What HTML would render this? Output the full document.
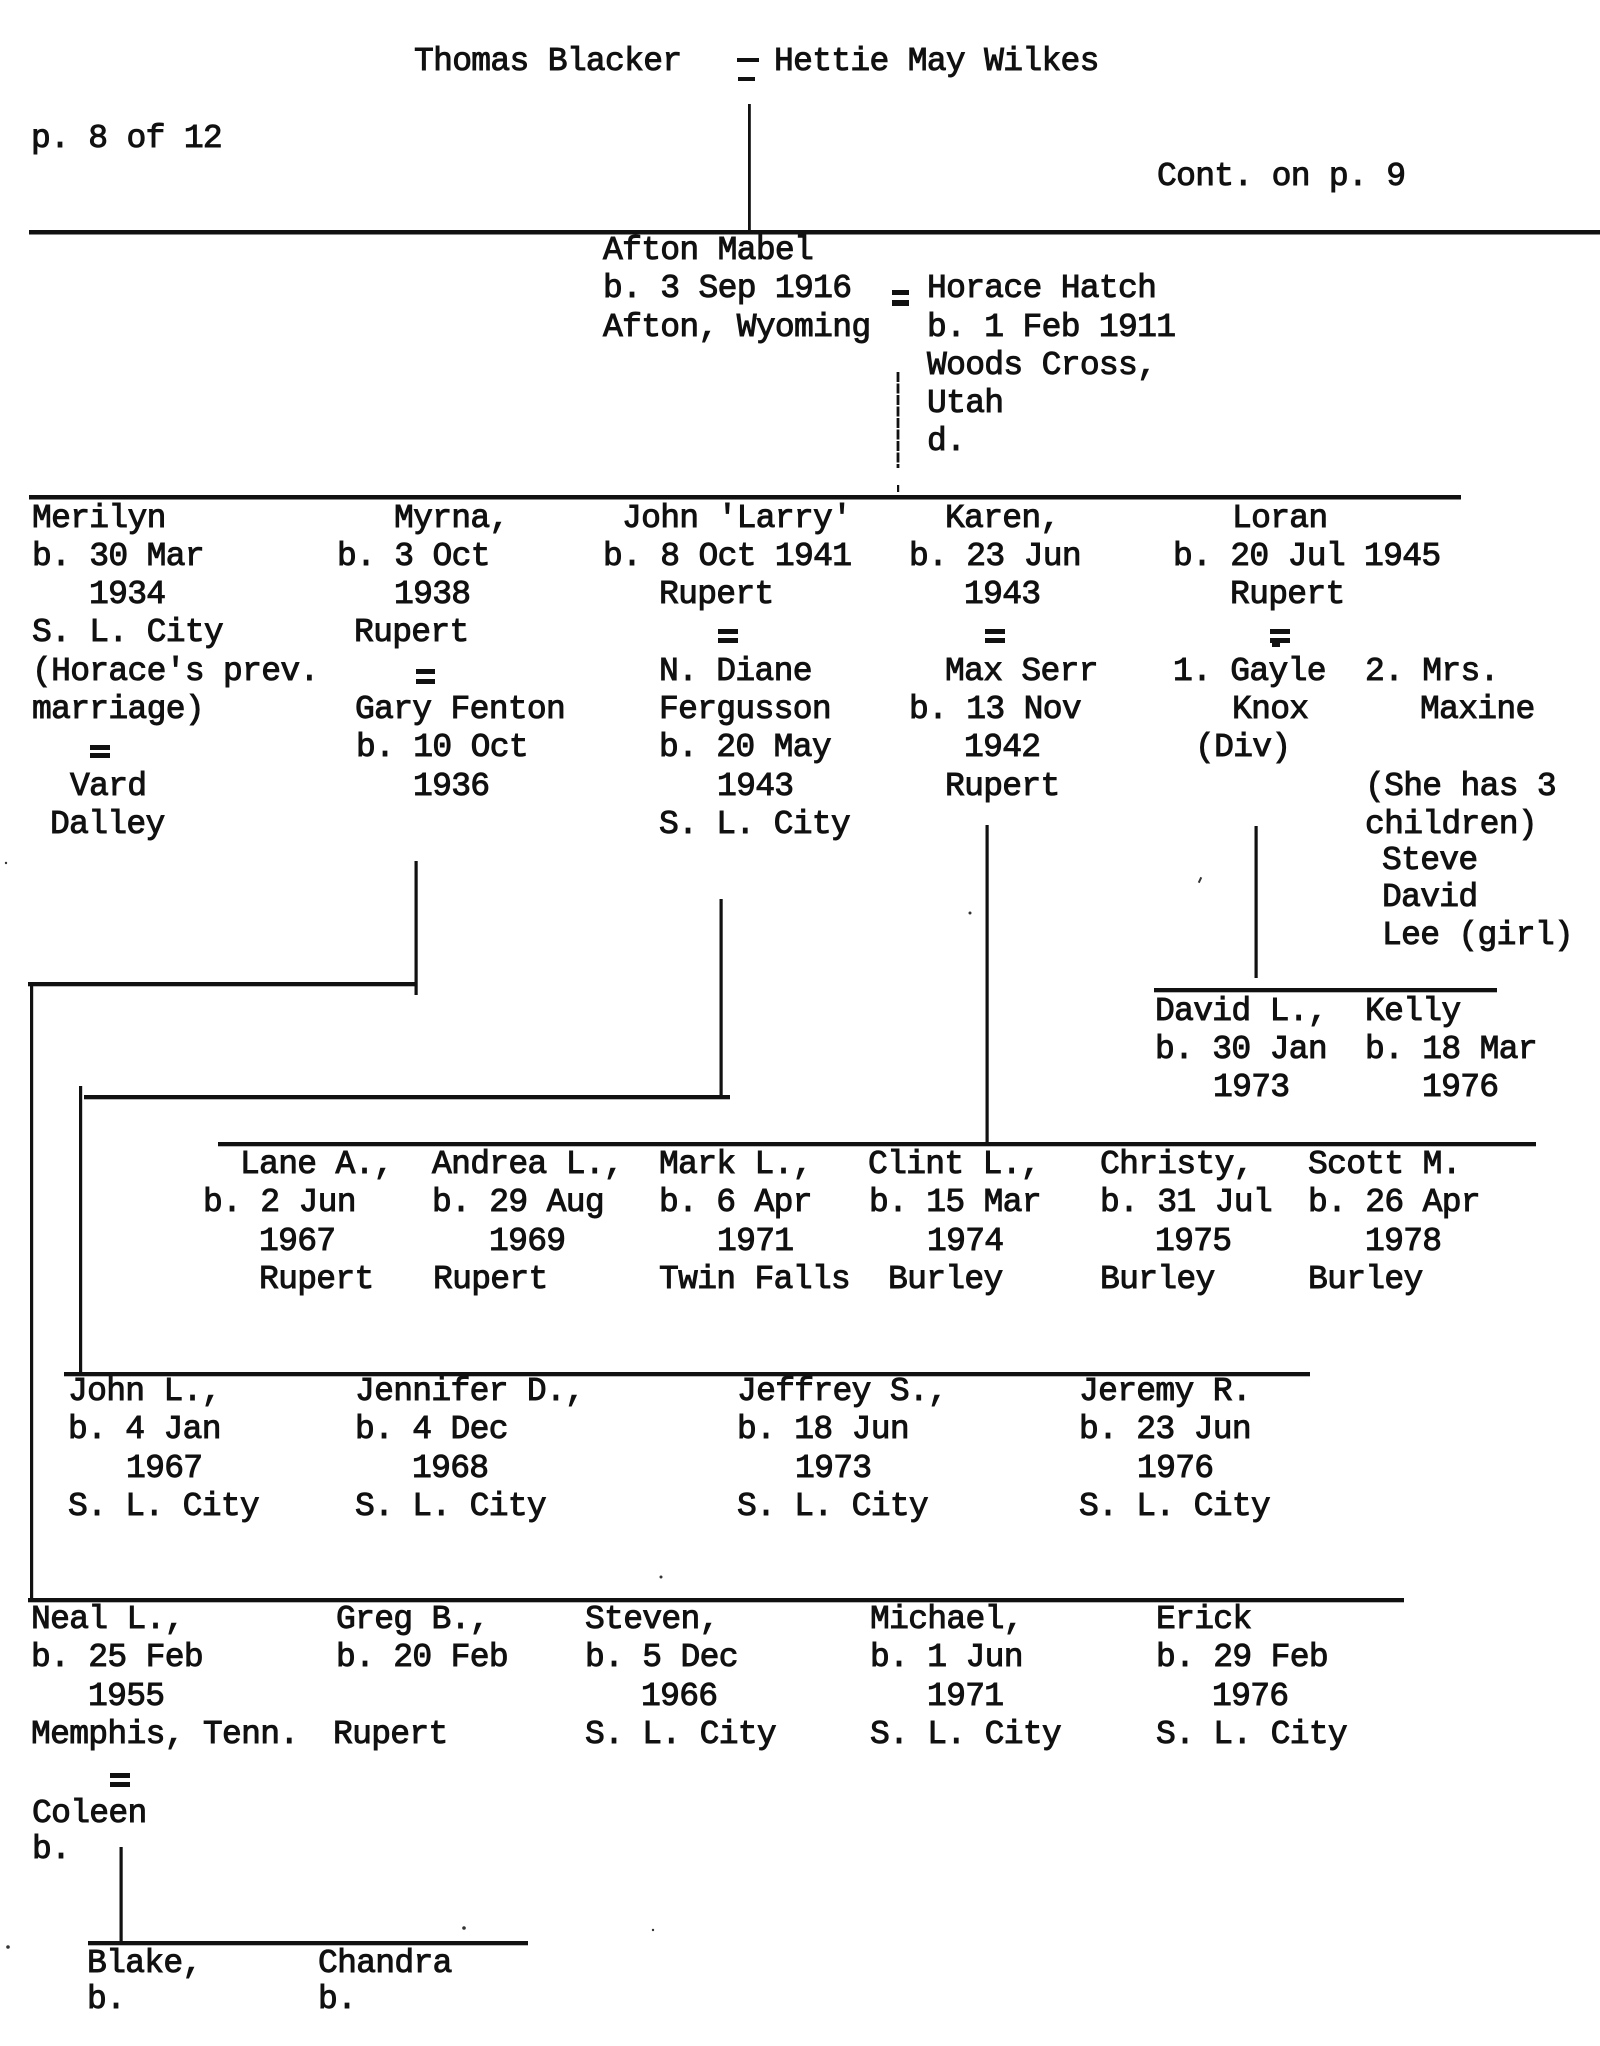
<!DOCTYPE html>
<html>
<head>
<meta charset="utf-8">
<style>
html,body{margin:0;padding:0;background:#fff;}
body{width:1600px;height:2046px;overflow:hidden;}
svg{display:block;}
text{font-family:"Liberation Mono","DejaVu Sans Mono",monospace;font-size:33px;letter-spacing:-0.7px;fill:#111;stroke:#111;stroke-width:0.95px;}
</style>
</head>
<body>
<svg width="1600" height="2046" viewBox="0 0 1600 2046" xmlns="http://www.w3.org/2000/svg">
<rect width="1600" height="2046" fill="#fff"/>

<!-- ===== LINES ===== -->
<g fill="#111">
  <rect x="748" y="104" width="2.8" height="128"/>
  <rect x="29" y="230" width="1571" height="4.5"/>
  <rect x="29" y="495" width="1432" height="4.5"/>
  <rect x="414.5" y="861" width="3.2" height="134"/>
  <rect x="28" y="982" width="389" height="4.3"/>
  <rect x="30" y="984" width="3.2" height="618"/>
  <rect x="719.5" y="899" width="3.2" height="198"/>
  <rect x="84" y="1095" width="646" height="4.3"/>
  <rect x="79" y="1086" width="3.2" height="288"/>
  <rect x="985.5" y="825" width="3.2" height="319"/>
  <rect x="1254.5" y="826" width="3.2" height="152"/>
  <rect x="1154" y="988" width="343" height="4.3"/>
  <rect x="218" y="1142" width="1318" height="4.3"/>
  <rect x="64" y="1372" width="1246" height="4.3"/>
  <rect x="28" y="1598" width="1376" height="4.3"/>
  <rect x="119.5" y="1847" width="3.2" height="96"/>
  <rect x="88" y="1941" width="440" height="4.3"/>
</g>

<!-- dashed vertical under Horace -->
<line x1="898" y1="372" x2="898" y2="468" stroke="#111" stroke-width="2.8" stroke-dasharray="10 1.5"/>
<rect x="897" y="485" width="2.2" height="7" fill="#111"/>

<!-- ===== "=" marks ===== -->
<g fill="#111">
  <rect x="737" y="58" width="22" height="4"/><rect x="738" y="77" width="17" height="4"/>
  <rect x="892" y="290" width="17" height="5"/><rect x="892" y="300" width="17" height="6"/>
  <rect x="90" y="745" width="20" height="5"/><rect x="90" y="753" width="20" height="5"/>
  <rect x="416" y="669" width="19" height="5"/><rect x="416" y="679" width="19" height="5"/>
  <rect x="718" y="629" width="20" height="5"/><rect x="718" y="638" width="20" height="5"/>
  <rect x="985" y="629" width="20" height="5"/><rect x="985" y="638" width="20" height="5"/>
  <rect x="1270" y="629" width="20" height="5"/><rect x="1270" y="638" width="20" height="5"/>
  <rect x="1272" y="643" width="8" height="4"/>
  <rect x="110" y="1773" width="20" height="5"/><rect x="110" y="1782" width="20" height="5"/>
</g>

<!-- stray specks -->
<g fill="#333">
  <circle cx="970" cy="913" r="1.5"/>
  <rect x="1199" y="877" width="2" height="6" transform="rotate(25 1200 880)"/>
  <circle cx="6" cy="863" r="1.2"/>
  <circle cx="661" cy="1577" r="1.5"/>
  <circle cx="464" cy="1928" r="1.8"/>
  <circle cx="8" cy="1947" r="1.8"/>
  <circle cx="653" cy="1930" r="1.2"/>
</g>

<!-- ===== TEXT ===== -->
<text x="414" y="70">Thomas Blacker</text>
<text x="774" y="70">Hettie May Wilkes</text>
<text x="31" y="147">p. 8 of 12</text>
<text x="1157" y="185">Cont. on p. 9</text>

<text x="603" y="259">Afton Mabel</text>
<text x="603" y="297">b. 3 Sep 1916</text>
<text x="603" y="336">Afton, Wyoming</text>
<text x="927" y="297">Horace Hatch</text>
<text x="927" y="336">b. 1 Feb 1911</text>
<text x="927" y="374">Woods Cross,</text>
<text x="927" y="412">Utah</text>
<text x="927" y="450">d.</text>

<text x="32" y="527">Merilyn</text>
<text x="32" y="565">b. 30 Mar</text>
<text x="89" y="603">1934</text>
<text x="32" y="641">S. L. City</text>
<text x="32" y="680">(Horace's prev.</text>
<text x="32" y="718">marriage)</text>
<text x="70" y="795">Vard</text>
<text x="50" y="833">Dalley</text>

<text x="394" y="527">Myrna,</text>
<text x="337" y="565">b. 3 Oct</text>
<text x="394" y="603">1938</text>
<text x="354" y="641">Rupert</text>
<text x="355" y="718">Gary Fenton</text>
<text x="356" y="756">b. 10 Oct</text>
<text x="413" y="795">1936</text>

<text x="622" y="527">John 'Larry'</text>
<text x="603" y="565">b. 8 Oct 1941</text>
<text x="659" y="603">Rupert</text>
<text x="659" y="680">N. Diane</text>
<text x="659" y="718">Fergusson</text>
<text x="659" y="756">b. 20 May</text>
<text x="717" y="795">1943</text>
<text x="659" y="833">S. L. City</text>

<text x="945" y="527">Karen,</text>
<text x="909" y="565">b. 23 Jun</text>
<text x="964" y="603">1943</text>
<text x="945" y="680">Max Serr</text>
<text x="909" y="718">b. 13 Nov</text>
<text x="964" y="756">1942</text>
<text x="945" y="795">Rupert</text>

<text x="1232" y="527">Loran</text>
<text x="1173" y="565">b. 20 Jul 1945</text>
<text x="1230" y="603">Rupert</text>
<text x="1173" y="680">1. Gayle</text>
<text x="1232" y="718">Knox</text>
<text x="1195" y="756">(Div)</text>
<text x="1365" y="680">2. Mrs.</text>
<text x="1420" y="718">Maxine</text>
<text x="1365" y="795">(She has 3</text>
<text x="1365" y="833">children)</text>
<text x="1382" y="869">Steve</text>
<text x="1382" y="906">David</text>
<text x="1382" y="944">Lee (girl)</text>

<text x="1155" y="1020">David L.,</text>
<text x="1155" y="1058">b. 30 Jan</text>
<text x="1213" y="1096">1973</text>
<text x="1365" y="1020">Kelly</text>
<text x="1365" y="1058">b. 18 Mar</text>
<text x="1422" y="1096">1976</text>

<text x="240" y="1173">Lane A.,</text>
<text x="203" y="1211">b. 2 Jun</text>
<text x="259" y="1250">1967</text>
<text x="259" y="1288">Rupert</text>
<text x="432" y="1173">Andrea L.,</text>
<text x="432" y="1211">b. 29 Aug</text>
<text x="489" y="1250">1969</text>
<text x="433" y="1288">Rupert</text>
<text x="659" y="1173">Mark L.,</text>
<text x="659" y="1211">b. 6 Apr</text>
<text x="717" y="1250">1971</text>
<text x="659" y="1288">Twin Falls</text>
<text x="868" y="1173">Clint L.,</text>
<text x="869" y="1211">b. 15 Mar</text>
<text x="927" y="1250">1974</text>
<text x="888" y="1288">Burley</text>
<text x="1100" y="1173">Christy,</text>
<text x="1100" y="1211">b. 31 Jul</text>
<text x="1155" y="1250">1975</text>
<text x="1100" y="1288">Burley</text>
<text x="1308" y="1173">Scott M.</text>
<text x="1308" y="1211">b. 26 Apr</text>
<text x="1365" y="1250">1978</text>
<text x="1308" y="1288">Burley</text>

<text x="68" y="1400">John L.,</text>
<text x="68" y="1438">b. 4 Jan</text>
<text x="126" y="1477">1967</text>
<text x="68" y="1515">S. L. City</text>
<text x="355" y="1400">Jennifer D.,</text>
<text x="355" y="1438">b. 4 Dec</text>
<text x="412" y="1477">1968</text>
<text x="355" y="1515">S. L. City</text>
<text x="737" y="1400">Jeffrey S.,</text>
<text x="737" y="1438">b. 18 Jun</text>
<text x="795" y="1477">1973</text>
<text x="737" y="1515">S. L. City</text>
<text x="1079" y="1400">Jeremy R.</text>
<text x="1079" y="1438">b. 23 Jun</text>
<text x="1137" y="1477">1976</text>
<text x="1079" y="1515">S. L. City</text>

<text x="31" y="1628">Neal L.,</text>
<text x="31" y="1666">b. 25 Feb</text>
<text x="88" y="1705">1955</text>
<text x="31" y="1743">Memphis, Tenn.</text>
<text x="32" y="1822">Coleen</text>
<text x="32" y="1858">b.</text>
<text x="336" y="1628">Greg B.,</text>
<text x="336" y="1666">b. 20 Feb</text>
<text x="333" y="1743">Rupert</text>
<text x="585" y="1628">Steven,</text>
<text x="585" y="1666">b. 5 Dec</text>
<text x="641" y="1705">1966</text>
<text x="585" y="1743">S. L. City</text>
<text x="870" y="1628">Michael,</text>
<text x="870" y="1666">b. 1 Jun</text>
<text x="927" y="1705">1971</text>
<text x="870" y="1743">S. L. City</text>
<text x="1156" y="1628">Erick</text>
<text x="1156" y="1666">b. 29 Feb</text>
<text x="1212" y="1705">1976</text>
<text x="1156" y="1743">S. L. City</text>

<text x="87" y="1972">Blake,</text>
<text x="87" y="2008">b.</text>
<text x="318" y="1972">Chandra</text>
<text x="318" y="2008">b.</text>
</svg>
</body>
</html>
